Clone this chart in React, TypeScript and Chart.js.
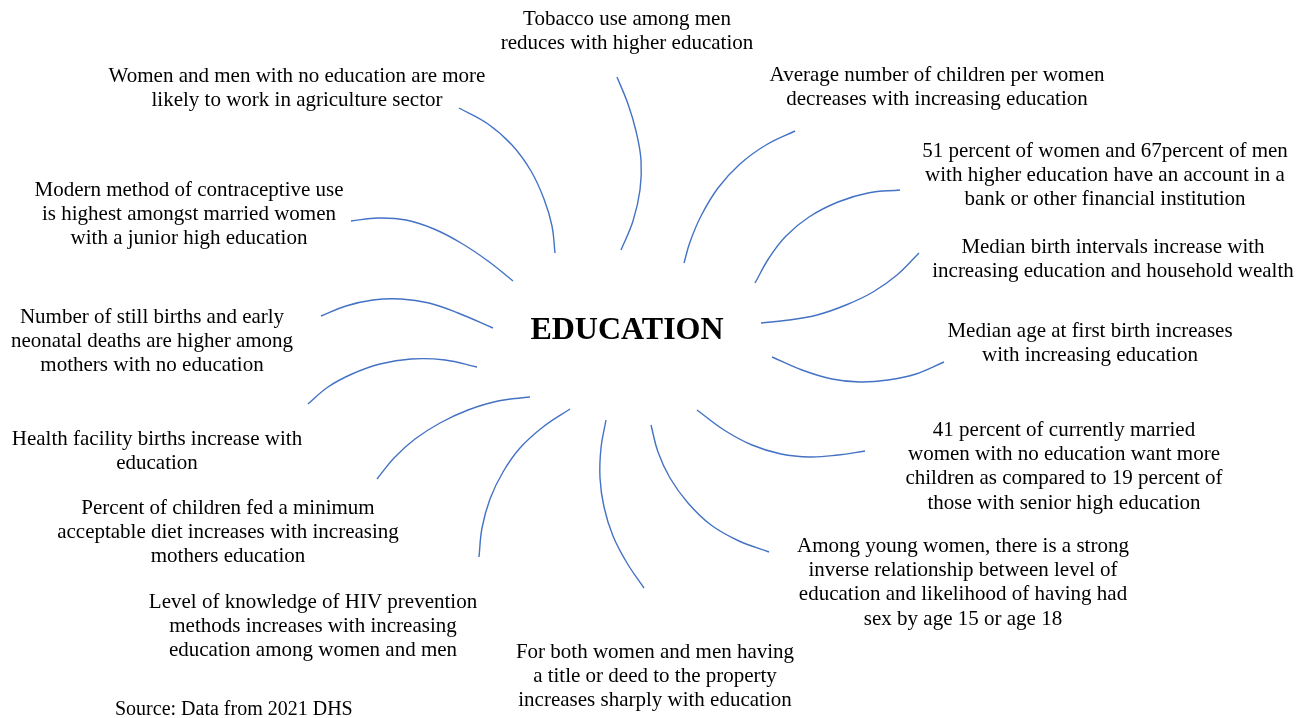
import React, { useEffect, useRef } from "react";
import { Chart, registerables } from "chart.js";
Chart.register(...registerables);

const WIDTH = 1306;
const HEIGHT = 718;

// Connector arcs: [x, y] points (y grows downward)
const tobaccoArc = [[617, 77], [628, 104], [636, 131], [641, 160], [640, 190], [633, 221], [621, 250]];
const agricultureArc = [[459, 108], [488, 124], [512, 145], [531, 171], [544, 199], [552, 226], [555, 253]];
const childrenArc = [[795, 131], [766, 145], [740, 164], [718, 188], [701, 216], [690, 242], [684, 263]];
const bankArc = [[900, 190], [868, 193], [838, 202], [809, 217], [786, 236], [769, 258], [755, 283]];
const birthIntervalArc = [[919, 253], [897, 275], [873, 292], [846, 305], [817, 315], [789, 320], [761, 323]];
const firstBirthArc = [[944, 362], [916, 374], [888, 380], [860, 382], [832, 379], [802, 370], [772, 357]];
const wantMoreArc = [[865, 451], [838, 455], [810, 457], [781, 454], [752, 445], [724, 430], [697, 410]];
const youngWomenArc = [[769, 552], [739, 541], [711, 525], [688, 503], [670, 478], [658, 452], [651, 425]];
const titleDeedArc = [[644, 588], [627, 563], [613, 536], [604, 507], [600, 478], [601, 448], [606, 420]];
const hivArc = [[479, 557], [482, 528], [490, 499], [503, 472], [520, 448], [543, 427], [570, 409]];
const dietArc = [[377, 479], [394, 458], [415, 439], [440, 423], [468, 410], [498, 401], [530, 397]];
const facilityArc = [[308, 404], [328, 387], [352, 374], [380, 364], [411, 359], [445, 360], [477, 367]];
const stillBirthArc = [[321, 316], [346, 306], [373, 300], [401, 299], [429, 303], [458, 313], [493, 328]];
const contraceptiveArc = [[351, 221], [378, 218], [406, 220], [434, 229], [461, 243], [488, 261], [513, 281]];

const arcs = [
  tobaccoArc, agricultureArc, childrenArc, bankArc, birthIntervalArc, firstBirthArc,
  wantMoreArc, youngWomenArc, titleDeedArc, hivArc, dietArc, facilityArc,
  stillBirthArc, contraceptiveArc,
];

// Statement texts
const tobaccoText = ["Tobacco use among men", "reduces with higher education"];
const agricultureText = ["Women and men with no education are more", "likely to work in agriculture sector"];
const childrenText = ["Average number of children per women", "decreases with increasing education"];
const bankText = ["51 percent of women and 67percent of men", "with higher education have an account in a", "bank or other financial institution"];
const birthIntervalText = ["Median birth intervals increase with", "increasing education and household wealth"];
const firstBirthText = ["Median age at first birth increases", "with increasing education"];
const wantMoreText = ["41 percent of currently married", "women with no education want more", "children as compared to 19 percent of", "those with senior high education"];
const youngWomenText = ["Among young women, there is a strong", "inverse relationship between level of", "education and likelihood of having had", "sex by age 15 or age 18"];
const titleDeedText = ["For both women and men having", "a title or deed to the property", "increases sharply with education"];
const hivText = ["Level of knowledge of HIV prevention", "methods increases with increasing", "education among women and men"];
const dietText = ["Percent of children fed a minimum", "acceptable diet increases with increasing", "mothers education"];
const facilityText = ["Health facility births increase with", "education"];
const stillBirthText = ["Number of still births and early", "neonatal deaths are higher among", "mothers with no education"];
const contraceptiveText = ["Modern method of contraceptive use", "is highest amongst married women", "with a junior high education"];

const statements = [
  tobaccoText, agricultureText, childrenText, bankText, birthIntervalText, firstBirthText,
  wantMoreText, youngWomenText, titleDeedText, hivText, dietText, facilityText,
  stillBirthText, contraceptiveText,
];
// Anchor (center x, first line y) for each statement
const statementAnchors = [
  [627, 19], [297, 76], [937, 75], [1105, 151], [1113, 247], [1090, 331],
  [1064, 430], [963, 546], [655, 652], [313, 602], [228, 508], [157, 439],
  [152, 317], [189, 190],
];

const centerTitle = "EDUCATION";
const centerAnchor = [627, 331];
const sourceText = "Source: Data from 2021 DHS";
const sourceAnchor = [115, 710];

const LINE_GAP = 24.4;

const textPlugin = {
  id: "diagramText",
  afterDatasetsDraw(chart: any) {
    const ctx = chart.ctx;
    const xs = chart.scales.x;
    const ys = chart.scales.y;
    ctx.save();
    ctx.fillStyle = "#000";
    ctx.textBaseline = "middle";
    ctx.textAlign = "center";
    ctx.font = '21px "Liberation Serif", "Times New Roman", serif';
    statements.forEach((lines, i) => {
      const [ax, ay] = statementAnchors[i];
      lines.forEach((line, j) => {
        ctx.fillText(line, xs.getPixelForValue(ax), ys.getPixelForValue(ay + j * LINE_GAP));
      });
    });
    ctx.font = 'bold 32px "Liberation Serif", "Times New Roman", serif';
    ctx.fillText(centerTitle, xs.getPixelForValue(centerAnchor[0]), ys.getPixelForValue(centerAnchor[1]));
    ctx.textAlign = "left";
    ctx.font = '20px "Liberation Serif", "Times New Roman", serif';
    ctx.fillText(sourceText, xs.getPixelForValue(sourceAnchor[0]), ys.getPixelForValue(sourceAnchor[1]));
    ctx.restore();
  },
};

export default function App() {
  const ref = useRef<HTMLCanvasElement | null>(null);
  useEffect(() => {
    document.body.style.margin = "0";
    document.body.style.background = "#fff";
    const canvas = ref.current;
    if (!canvas) return;
    const chart = new Chart(canvas, {
      type: "line",
      data: {
        datasets: arcs.map((pts) => ({
          data: pts.map(([x, y]) => ({ x, y })),
          borderColor: "#4472C4",
          borderWidth: 1.4,
          pointRadius: 0,
          tension: 0.4,
          fill: false,
        })),
      },
      options: {
        responsive: false,
        animation: false,
        events: [],
        layout: { padding: 0 },
        plugins: { legend: { display: false }, tooltip: { enabled: false } },
        scales: {
          x: { type: "linear", min: 0, max: WIDTH, display: false },
          y: { type: "linear", min: 0, max: HEIGHT, reverse: true, display: false },
        },
      },
      plugins: [textPlugin],
    });
    return () => chart.destroy();
  }, []);
  return (
    <div style={{ width: WIDTH, height: HEIGHT, background: "#fff" }}>
      <canvas ref={ref} width={WIDTH} height={HEIGHT} style={{ display: "block" }} />
    </div>
  );
}
